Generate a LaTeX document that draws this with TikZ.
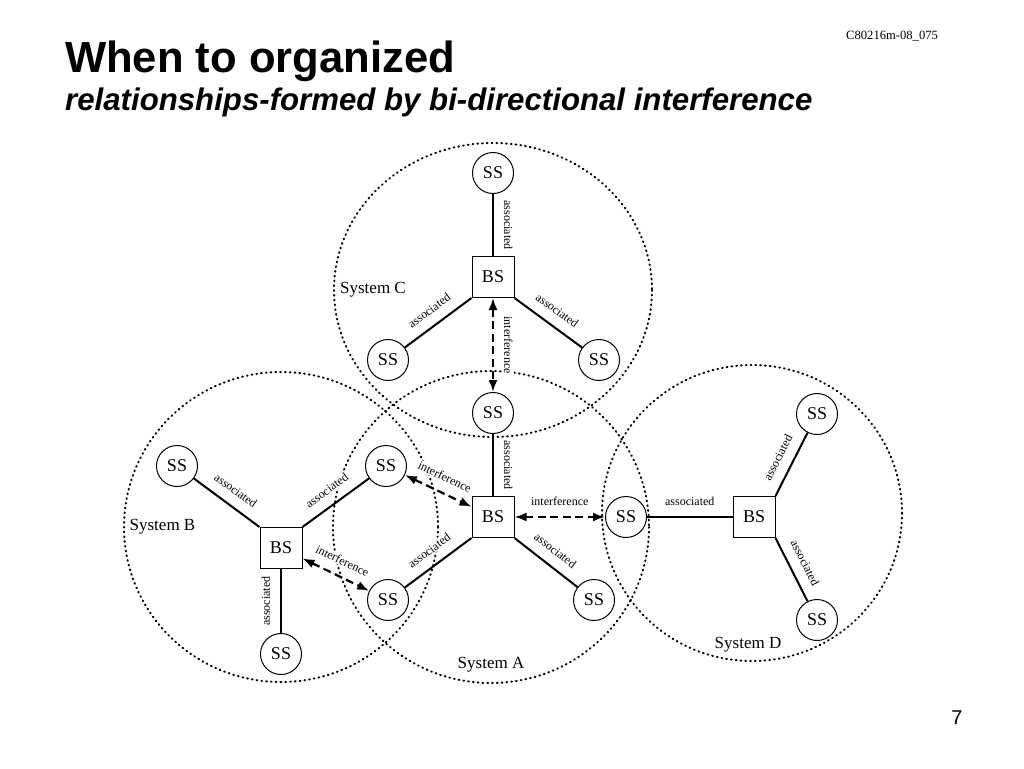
\documentclass[tikz,border=0pt]{standalone}
\usepackage{fontspec}
\setmainfont{Liberation Serif}
\newfontfamily\sansf{Liberation Sans}
\usetikzlibrary{arrows.meta}
\begin{document}
\begin{tikzpicture}[x=1pt,y=-1pt,
  ssnode/.style={circle,draw,line width=1pt,minimum size=41pt,inner sep=0pt,fill=white,font=\fontsize{18}{18}\selectfont},
  bsnode/.style={rectangle,draw,line width=1pt,minimum width=42pt,minimum height=41pt,inner sep=0pt,fill=white,font=\fontsize{18}{18}\selectfont},
  lab/.style={font=\fontsize{12}{12}\selectfont,fill=white,inner sep=1pt,sloped,above=9pt},
  syslab/.style={font=\fontsize{17}{17}\selectfont,inner sep=0pt},
  assoc/.style={line width=2pt},
  intf/.style={line width=2.2pt,dash pattern=on 8pt off 4.5pt,{Latex[length=12pt,width=9pt]}-{Latex[length=12pt,width=9pt]}},
  zone/.style={line width=2pt,dash pattern=on 0.8pt off 4pt,line cap=round}
]
\fill[white] (0,0) rectangle (1024,768);
\useasboundingbox (0,0) rectangle (1024,768);

% titles
\node[anchor=base west, inner sep=0pt, font=\sansf\bfseries\fontsize{43.6}{44}\selectfont] (title) at (65,72.5) {When to organized};
\node[anchor=base west, inner sep=0pt, font=\sansf\bfseries\itshape\fontsize{31.2}{32}\selectfont] (subtitle) at (65,110) {relationships-formed by bi-directional interference};
\node[anchor=base west, inner sep=0pt, font=\fontsize{12.6}{13}\selectfont] (docid) at (846,40) {C80216m-08\_075};
\node[anchor=base, inner sep=0pt, font=\sansf\fontsize{20}{20}\selectfont] (pagenum) at (957,724) {7};

% system zones
\draw[zone] (493,290) ellipse [x radius=159, y radius=147];
\draw[zone] (491,527) ellipse [x radius=158, y radius=156];
\draw[zone] (281,527) ellipse [x radius=157, y radius=155];
\draw[zone] (752,513) ellipse [x radius=150, y radius=148];

\node[syslab] (sysC) at (373,290) {System C};
\node[syslab] (sysB) at (162.5,527) {System B};
\node[syslab] (sysA) at (491,665) {System A};
\node[syslab] (sysD) at (748,645) {System D};

% System C
\node[ssnode] (ssCt) at (493,173) {SS};
\node[bsnode] (bsC) at (493,277) {BS};
\node[ssnode] (ssCl) at (388,360) {SS};
\node[ssnode] (ssCr) at (599,360) {SS};
% System A
\node[ssnode] (ssAt) at (493,413) {SS};
\node[bsnode] (bsA) at (493,517) {BS};
\node[ssnode] (ssX1) at (386,466) {SS};
\node[ssnode] (ssX2) at (388,600) {SS};
\node[ssnode] (ssAr) at (594,600) {SS};
% System B
\node[ssnode] (ssBl) at (177,466) {SS};
\node[bsnode] (bsB) at (281,548) {BS};
\node[ssnode] (ssBb) at (281,654) {SS};
% System D
\node[ssnode] (ssDl) at (626,517) {SS};
\node[bsnode] (bsD) at (754,517) {BS};
\node[ssnode] (ssDt) at (817,414) {SS};
\node[ssnode] (ssDb) at (817,620) {SS};

% connectors
\draw[assoc] (ssCt) -- node[lab]{associated} (bsC);
\draw[assoc] (bsC.south west) -- node[lab]{associated} (ssCl);
\draw[assoc] (bsC.south east) -- node[lab]{associated} (ssCr);
\draw[intf] (bsC) -- node[lab]{interference} (ssAt);
\draw[assoc] (ssAt) -- node[lab]{associated} (bsA);
\draw[intf] (bsA) -- node[lab]{interference} (ssDl);
\draw[assoc] (bsA.south west) -- node[lab]{associated} (ssX2);
\draw[assoc] (bsA.south east) -- node[lab]{associated} (ssAr);
\draw[intf] (ssX1) -- node[lab]{interference} (bsA);
\draw[assoc] (ssBl) -- node[lab]{associated} (bsB.north west);
\draw[assoc] (bsB.north east) -- node[lab]{associated} (ssX1);
\draw[intf] (bsB) -- node[lab]{interference} (ssX2);
\draw[assoc] (ssBb) -- node[lab]{associated} (bsB);
\draw[assoc] (ssDl) -- node[lab]{associated} (bsD);
\draw[assoc] (bsD.north east) -- node[lab]{associated} (ssDt);
\draw[assoc] (bsD.south east) -- node[lab]{associated} (ssDb);
\end{tikzpicture}
\end{document}
